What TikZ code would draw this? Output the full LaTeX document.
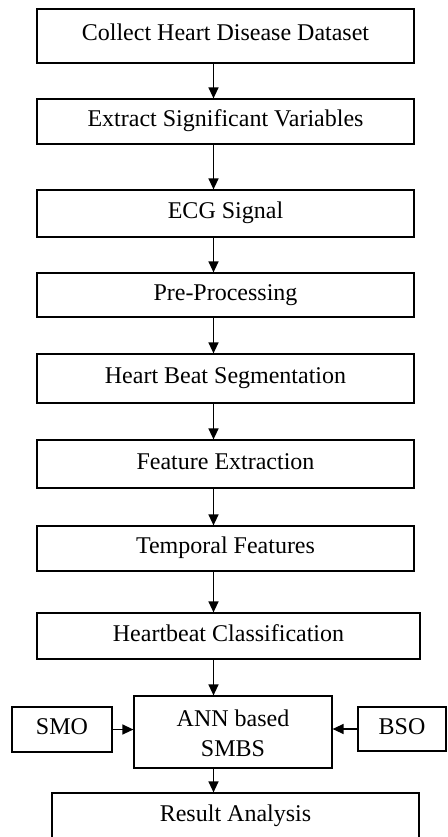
\documentclass[tikz,border=0pt]{standalone}
\usepackage{fontspec}
\setmainfont{Liberation Serif}
\usetikzlibrary{arrows.meta,positioning}
\tikzset{
  >={Triangle[length=11pt,width=10pt]},
  stage/.style={draw,line width=1.2pt,inner sep=0pt,align=center,
    font=\fontsize{24}{30}\selectfont,text height=17pt,text depth=7pt},
  flow/.style={->,line width=1.3pt},
}
\begin{document}
\begin{tikzpicture}[x=1pt,y=-1pt]
  \clip (0,0) rectangle (447,837);
  \coordinate (ax) at (213.5,0);
  % main chain
  \foreach \i/\y/\h/\t in {1/36/54/Collect Heart Disease Dataset,2/121.5/45/Extract Significant Variables,
    3/213.5/47/ECG Signal,4/295/44/Pre-Processing,5/378.5/49/Heart Beat Segmentation,
    6/464/48/Feature Extraction,7/548.5/45/Temporal Features}{
    \node[stage,minimum width=377pt,minimum height=\h pt] (b\i) at (225.5,\y) {\t};
  }
  \node[stage,minimum width=383pt,minimum height=46pt] (b8) at (228.5,636) {Heartbeat Classification};
  \node[stage,minimum width=198pt,minimum height=72pt,text height=48pt,text depth=0pt] (ann) at (233,732) {ANN based\\SMBS};
  \node[stage,minimum width=100pt,minimum height=45pt] (smo) at (62,729.5) {SMO};
  \node[stage,minimum width=88pt,minimum height=44pt] (bso) at (402,729) {BSO};
  \node[stage,minimum width=367pt,minimum height=46pt] (res) at (235.5,816) {Result Analysis};
  \foreach \i/\j in {1/2,2/3,3/4,4/5,5/6,6/7,7/8}
    \draw[flow] (b\i.south -| ax) -- (b\j.north -| ax);
  \draw[flow] (b8.south -| ax) -- (ann.north -| ax);
  \draw[flow] (ann.south -| ax) -- (res.north -| ax);
  \draw[flow] (smo.east) -- (smo.east -| ann.west);
  \draw[flow] (bso.west) -- (bso.west -| ann.east);
\end{tikzpicture}
\end{document}
